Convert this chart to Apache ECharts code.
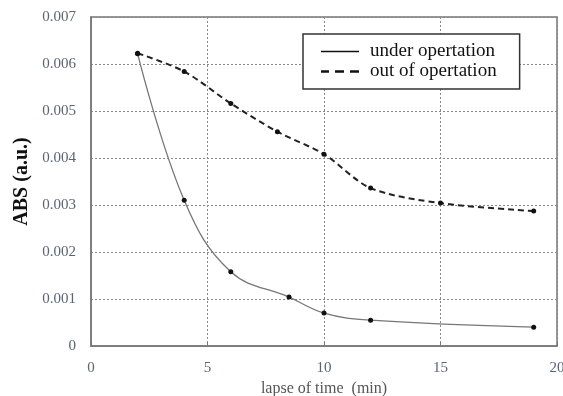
<!DOCTYPE html>
<html>
<head>
<meta charset="UTF-8">
<title>ABS</title>
<script src="https://cdn.jsdelivr.net/npm/echarts@6/dist/echarts.min.js"></script>
<style>
  html, body { margin: 0; padding: 0; background: #fff; }
  #chart { width: 563px; height: 396px; }
</style>
</head>
<body>
<div id="chart"></div>
<script type="text/javascript">
	// 运转中
	var underX = [2, 4, 6, 8.5, 10, 12, 19];
	var underY = [0.00622, 0.0031, 0.00158, 0.00104, 0.0007, 0.00055, 0.0004];
	// 停止运转
	var outX = [2, 4, 6, 8, 10, 12, 15, 19];
	var outY = [0.00623, 0.00584, 0.00516, 0.00456, 0.00408, 0.00336, 0.00304, 0.00287];
	var seriesNames = ['under opertation', 'out of opertation'];

	function pairs(xs, ys) {
		return xs.map(function (x, i) { return [x, ys[i]]; });
	}

	var font = '"Liberation Serif", "Times New Roman", serif';
	var chart = echarts.init(document.getElementById('chart'));
	var option = {
		animation: false,
		backgroundColor: '#fff',
		textStyle: { fontFamily: font },
		grid: { left: 91, right: 6, top: 17, bottom: 50, outerBoundsMode: 'none',
			show: true, borderColor: '#777', borderWidth: 1.5 },
		legend: {
			data: [
				{ name: seriesNames[0], icon: 'path://M0,0 L40,0 L40,1.5 L0,1.5 Z' },
				{ name: seriesNames[1], icon: 'path://M0,0 L8,0 L8,2.5 L0,2.5 Z M14,0 L23,0 L23,2.5 L14,2.5 Z M29,0 L38,0 L38,2.5 L29,2.5 Z' }
			],
			orient: 'vertical',
			left: 303, top: 34,
			padding: [8, 23, 8, 18],
			itemWidth: 38, itemHeight: 3, itemGap: 1,
			borderColor: '#333', borderWidth: 1.5,
			backgroundColor: '#fff',
			textStyle: { fontFamily: font, fontSize: 19, color: '#111', padding: [0, 0, 0, 6] },
			selectedMode: false
		},
		xAxis: {
			type: 'value', min: 0, max: 20, interval: 5,
			name: 'lapse of time  (min)', nameLocation: 'middle', nameGap: 30,
			nameTextStyle: { fontFamily: font, fontSize: 16, color: '#555' },
			axisLine: { show: true, lineStyle: { color: '#777', width: 1.5 } },
			axisTick: { show: true, inside: true, length: 4, lineStyle: { color: '#777' } },
			axisLabel: { fontFamily: font, fontSize: 15, color: '#5a6475', margin: 15 },
			splitLine: { show: true, lineStyle: { color: '#888', type: [2, 2], width: 1 } }
		},
		yAxis: {
			type: 'value', min: 0, max: 0.007, interval: 0.001,
			name: 'ABS (a.u.)', nameLocation: 'middle', nameGap: 55,
			nameTextStyle: { fontFamily: font, fontSize: 20, fontWeight: 'bold', color: '#111' },
			axisLine: { show: true, lineStyle: { color: '#777', width: 1.5 } },
			axisTick: { show: false },
			axisLabel: { fontFamily: font, fontSize: 15, color: '#5a6475', margin: 15,
				formatter: function (v) { return v === 0 ? '0' : v.toFixed(3); } },
			splitLine: { show: true, lineStyle: { color: '#888', type: [2, 2], width: 1 } }
		},
		series: [{
			name: seriesNames[0],
			type: 'line',
			smooth: 0.4,
			data: pairs(underX, underY),
			symbol: 'circle', symbolSize: 5,
			itemStyle: { color: '#111' },
			lineStyle: { color: '#777', width: 1.3, type: 'solid' }
		}, {
			name: seriesNames[1],
			type: 'line',
			smooth: 0.3,
			data: pairs(outX, outY),
			symbol: 'circle', symbolSize: 5,
			itemStyle: { color: '#111' },
			lineStyle: { color: '#222', width: 2, type: [6, 4] }
		}]
	};
	chart.setOption(option);
</script>
</body>
</html>
